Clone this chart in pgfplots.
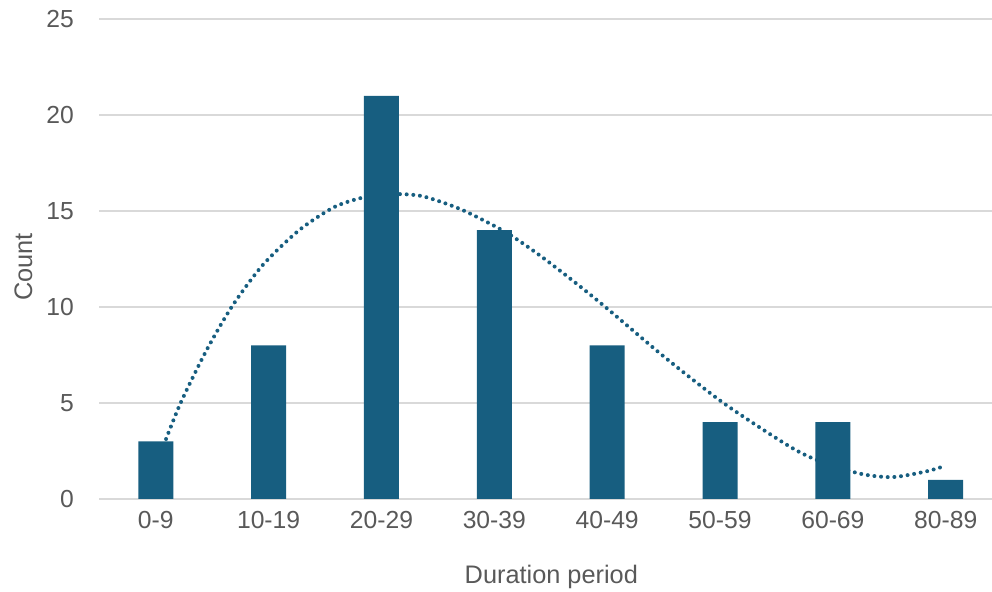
\documentclass[border=0pt]{standalone}
\usepackage{pgfplots}
\pgfplotsset{compat=1.18}
\usepackage{fontspec}
\setmainfont{Liberation Sans}
\definecolor{barblue}{RGB}{23,94,128}
\definecolor{txtgray}{RGB}{89,89,89}
\definecolor{gridgray}{RGB}{217,217,217}
\begin{document}
\begin{tikzpicture}
\useasboundingbox (-74.5pt,-69.75pt) rectangle (669.5pt,374.25pt);
\begin{axis}[
  at={(0,0)}, anchor=south west,
  scale only axis,
  width=669.5pt, height=360pt,
  xmin=-0.5, xmax=7.41,
  ymin=0, ymax=25,
  ytick={0,5,10,15,20,25},
  xtick={0,1,2,3,4,5,6,7},
  xticklabels={0-9,10-19,20-29,30-39,40-49,50-59,60-69,80-89},
  axis line style={draw=none},
  major tick length=0pt,
  ymajorgrids,
  grid style={gridgray, line width=1.1pt},
  tick label style={font=\fontsize{18.5}{22}\selectfont, text=txtgray},
  /pgf/number format/assume math mode=true,
  yticklabel style={inner sep=0pt, anchor=east, xshift=-19pt},
  xticklabel style={inner sep=0pt, anchor=north, yshift=-9pt},
  clip=false,
]
\addplot[ybar, bar width=26.25pt, fill=barblue, draw=none] coordinates {
  (0,3) (1,8) (2,21) (3,14) (4,8) (5,4) (6,4) (7,1)
};
\addplot[barblue, line width=3pt, line cap=round, dash pattern=on 0pt off 5pt, smooth, tension=0.45, mark=none] coordinates {
  (0.07,2.8) (0.22,5.0) (0.45,7.75) (0.68,10.07) (0.95,12.2) (1.27,14.0)
  (1.58,15.2) (1.85,15.72) (2.12,15.88) (2.37,15.76) (2.71,15.07) (3.10,13.9)
  (3.40,12.7) (3.70,11.35) (3.99,9.97) (4.50,7.43) (5.03,5.0) (5.59,2.83)
  (5.85,2.05) (6.24,1.32) (6.53,1.14) (6.83,1.44) (6.98,1.7)
};
\end{axis}
\node[rotate=90, text=txtgray, font=\fontsize{19}{22}\selectfont] at (-57pt,174pt) {Count};
\node[text=txtgray, font=\fontsize{19}{22}\selectfont] at (339pt,-58.5pt) {Duration period};
\end{tikzpicture}
\end{document}
